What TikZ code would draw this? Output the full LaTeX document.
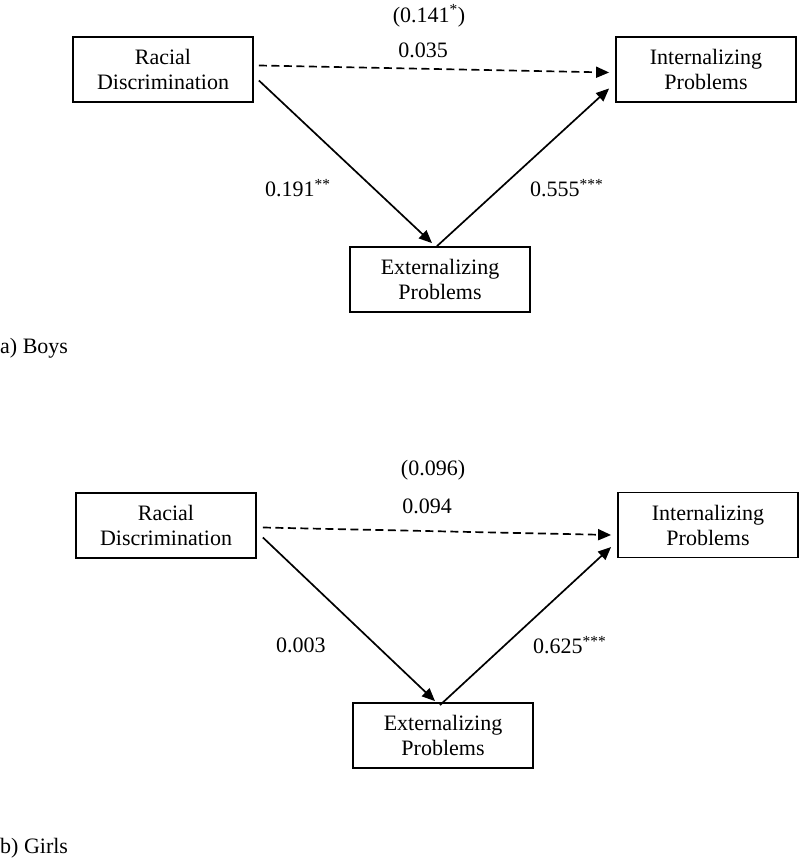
\documentclass[tikz,border=0pt]{standalone}
\usepackage{fontspec}
\setmainfont{Liberation Serif}
\usetikzlibrary{arrows.meta}
\begin{document}
\begin{tikzpicture}[x=1pt,y=-1pt,
  every node/.style={font=\fontsize{22}{25}\selectfont},
  varbox/.style={draw,line width=1.8pt,minimum width=180pt,minimum height=65pt,align=center,inner sep=0pt},
  lbl/.style={inner sep=0pt},
  path/.style={line width=1.7pt,-{Triangle[length=13pt,width=11pt]}},
  dpath/.style={path,dash pattern=on 8pt off 4.5pt}]
\useasboundingbox (0,0) rectangle (800,861);
% ---- Boys ----
\node[varbox] (rd1) at (163,69.5) {Racial\\Discrimination};
\node[varbox] (in1) at (706,69.5) {Internalizing\\Problems};
\node[varbox] (ex1) at (440,279.5) {Externalizing\\Problems};
\draw[dpath] ([xshift=5pt,yshift=4pt]rd1.east) -- ([xshift=-6pt,yshift=-3pt]in1.west);
\draw[path] ([xshift=5pt,yshift=-11pt]rd1.east) -- ([xshift=-8pt,yshift=3pt]ex1.north);
\draw[path] ([xshift=-3pt,yshift=0pt]ex1.north) -- ([xshift=-6pt,yshift=-19pt]in1.west);
\node[lbl] (t1) at (429,16) {(0.141\textsuperscript{*})};
\node[lbl] (d1) at (423,50) {0.035};
\node[lbl,anchor=west] (a1) at (265,188) {0.191\textsuperscript{**}};
\node[lbl,anchor=west] (b1) at (530,188) {0.555\textsuperscript{***}};
\node[lbl,anchor=west] (cap1) at (0,348) {a) Boys};
% ---- Girls ----
\node[varbox] (rd2) at (166,525.5) {Racial\\Discrimination};
\node[varbox] (in2) at (708,525) {Internalizing\\Problems};
\node[varbox] (ex2) at (443,735.5) {Externalizing\\Problems};
\draw[dpath] ([xshift=6pt,yshift=-2pt]rd2.east) -- ([xshift=-6pt,yshift=-10pt]in2.west);
\draw[path] ([xshift=6pt,yshift=-12pt]rd2.east) -- ([xshift=-8pt,yshift=1pt]ex2.north);
\draw[path] ([xshift=-3pt,yshift=-3pt]ex2.north) -- ([xshift=-6pt,yshift=-22pt]in2.west);
\node[lbl] (t2) at (433,470) {(0.096)};
\node[lbl] (d2) at (427,506) {0.094};
\node[lbl,anchor=west] (a2) at (276,645) {0.003};
\node[lbl,anchor=west] (b2) at (533,645) {0.625\textsuperscript{***}};
\node[lbl,anchor=west] (cap2) at (0,848) {b) Girls};
\end{tikzpicture}
\end{document}
